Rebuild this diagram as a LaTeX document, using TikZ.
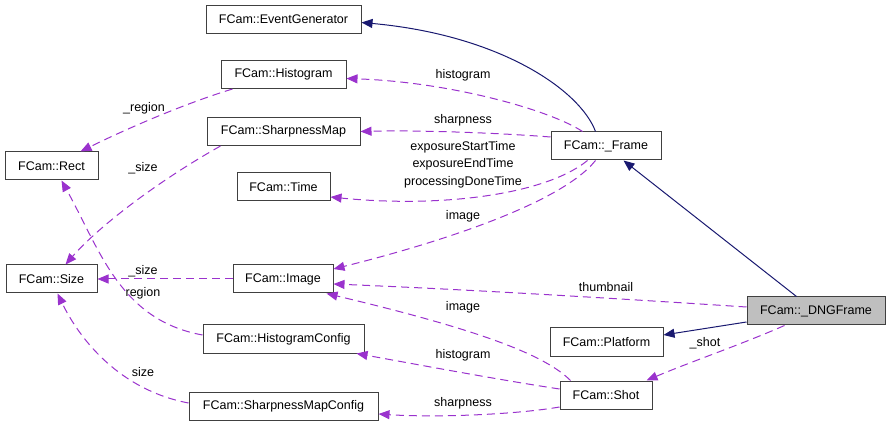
\documentclass[tikz,border=0pt]{standalone}
\usepackage{fontspec}
\setmainfont{Liberation Sans}
\usetikzlibrary{arrows.meta}
\definecolor{dep}{HTML}{9A32CD}
\definecolor{inhc}{HTML}{191970}
\definecolor{boxc}{HTML}{404040}
\definecolor{hl}{HTML}{BFBFBF}
\begin{document}
\begin{tikzpicture}[x=1pt,y=-1pt,
  font=\fontsize{12.5}{14}\selectfont,
  cls/.style={draw=boxc,line width=1pt,fill=white,inner sep=0pt,minimum height=28pt},
  inh/.style={draw=inhc,line width=1pt,-{Triangle[length=11pt,width=9pt]}},
  dp/.style={draw=dep,line width=1pt,dash pattern=on 8pt off 5pt,-{Triangle[length=11pt,width=9pt]}},
  lbl/.style={inner sep=0pt,align=center}]
\useasboundingbox (0,0) rectangle (891,427);
% nodes
\node[cls,minimum width=155pt] (evgen) at (283.5,19.5) {FCam::EventGenerator};
\node[cls,minimum width=125pt] (hist) at (283.5,74.5) {FCam::Histogram};
\node[cls,minimum width=153pt] (smap) at (283.5,131.5) {FCam::SharpnessMap};
\node[cls,minimum width=93pt] (rect) at (51.5,166) {FCam::Rect};
\node[cls,minimum width=93pt] (time) at (283.5,187) {FCam::Time};
\node[cls,minimum width=110pt] (frame) at (606,146) {FCam::\_Frame};
\node[cls,minimum width=91pt] (size) at (51.5,279) {FCam::Size};
\node[cls,minimum width=100pt] (image) at (283,279) {FCam::Image};
\node[cls,fill=hl,minimum width=138pt] (dng) at (816,311) {FCam::\_DNGFrame};
\node[cls,minimum width=113pt] (plat) at (606.5,342) {FCam::Platform};
\node[cls,minimum width=161pt] (hconf) at (283.5,339) {FCam::HistogramConfig};
\node[cls,minimum width=92pt] (shot) at (606,395) {FCam::Shot};
\node[cls,minimum width=189pt] (sconf) at (283.5,406) {FCam::SharpnessMapConfig};
% inheritance
\draw[inh] ([xshift=45pt]frame.north west) .. controls (580,90) and (500,35) .. ([yshift=-3pt]evgen.east);
\draw[inh] ([xshift=50pt]dng.north west) -- ([xshift=73pt]frame.south west);
\draw[inh] ([yshift=-11pt]dng.west) -- ([yshift=7pt]plat.east);
% usage
\draw[dp] ([xshift=38pt]dng.south west) .. controls (740,345) and (690,362) .. ([xshift=87pt]shot.north west);
\node[lbl] (l1) at (705,343) {\_shot};
\draw[dp] ([yshift=4pt]dng.west) .. controls (640,300) and (480,290) .. ([yshift=-5pt]image.east);
\node[lbl] (l2) at (606,287) {thumbnail};
\draw[dp] ([xshift=32pt]frame.north west) .. controls (550,110) and (450,82) .. ([yshift=-4pt]hist.east);
\node[lbl] (l3) at (463,75) {histogram};
\draw[dp] ([yshift=9pt]frame.west) .. controls (500,133) and (420,130) .. (smap.east);
\node[lbl] (l4) at (463,120) {sharpness};
\draw[dp] ([xshift=37pt]frame.south west) .. controls (545,195) and (440,208) .. ([yshift=-10pt]time.east);
\node[lbl,font=\fontsize{12.5}{17.5}\selectfont] (l5) at (463,164.5) {exposureStartTime\\exposureEndTime\\processingDoneTime};
\draw[dp] ([xshift=45pt]frame.south west) .. controls (560,205) and (430,245) .. ([yshift=10pt]image.east);
\node[lbl] (l6) at (463,216) {image};
\draw[dp] ([xshift=11pt]shot.north west) .. controls (545,355) and (480,330) .. ([xshift=-7pt]image.south east);
\node[lbl] (l7) at (463,307) {image};
\draw[dp] ([yshift=6pt]shot.west) .. controls (500,380) and (420,365) .. ([xshift=-8pt]hconf.south east);
\node[lbl] (l8) at (463,355) {histogram};
\draw[dp] ([yshift=-12pt]shot.west) .. controls (520,414) and (440,418) .. ([yshift=-8pt]sconf.east);
\node[lbl] (l9) at (463,403) {sharpness};
\draw[dp] ([xshift=12pt]hist.south west) .. controls (180,105) and (120,132) .. ([xshift=-18pt]rect.north east);
\node[lbl] (l10) at (144,108) {\_region};
\draw[dp] ([xshift=14pt]smap.south west) .. controls (160,180) and (100,225) .. ([xshift=60pt]size.north west);
\node[lbl] (l11) at (143,168) {\_size};
\draw[dp] (image.west) -- (size.east);
\node[lbl] (l12) at (143,271) {\_size};
\draw[dp] ([yshift=4pt]hconf.west) .. controls (120,320) and (100,250) .. ([xshift=57pt]rect.south west);
\node[lbl] (l13) at (143,293) {region};
\draw[dp] ([yshift=3pt]sconf.west) .. controls (120,390) and (80,340) .. ([xshift=52pt]size.south west);
\node[lbl] (l14) at (143,372) {size};
\end{tikzpicture}
\end{document}
